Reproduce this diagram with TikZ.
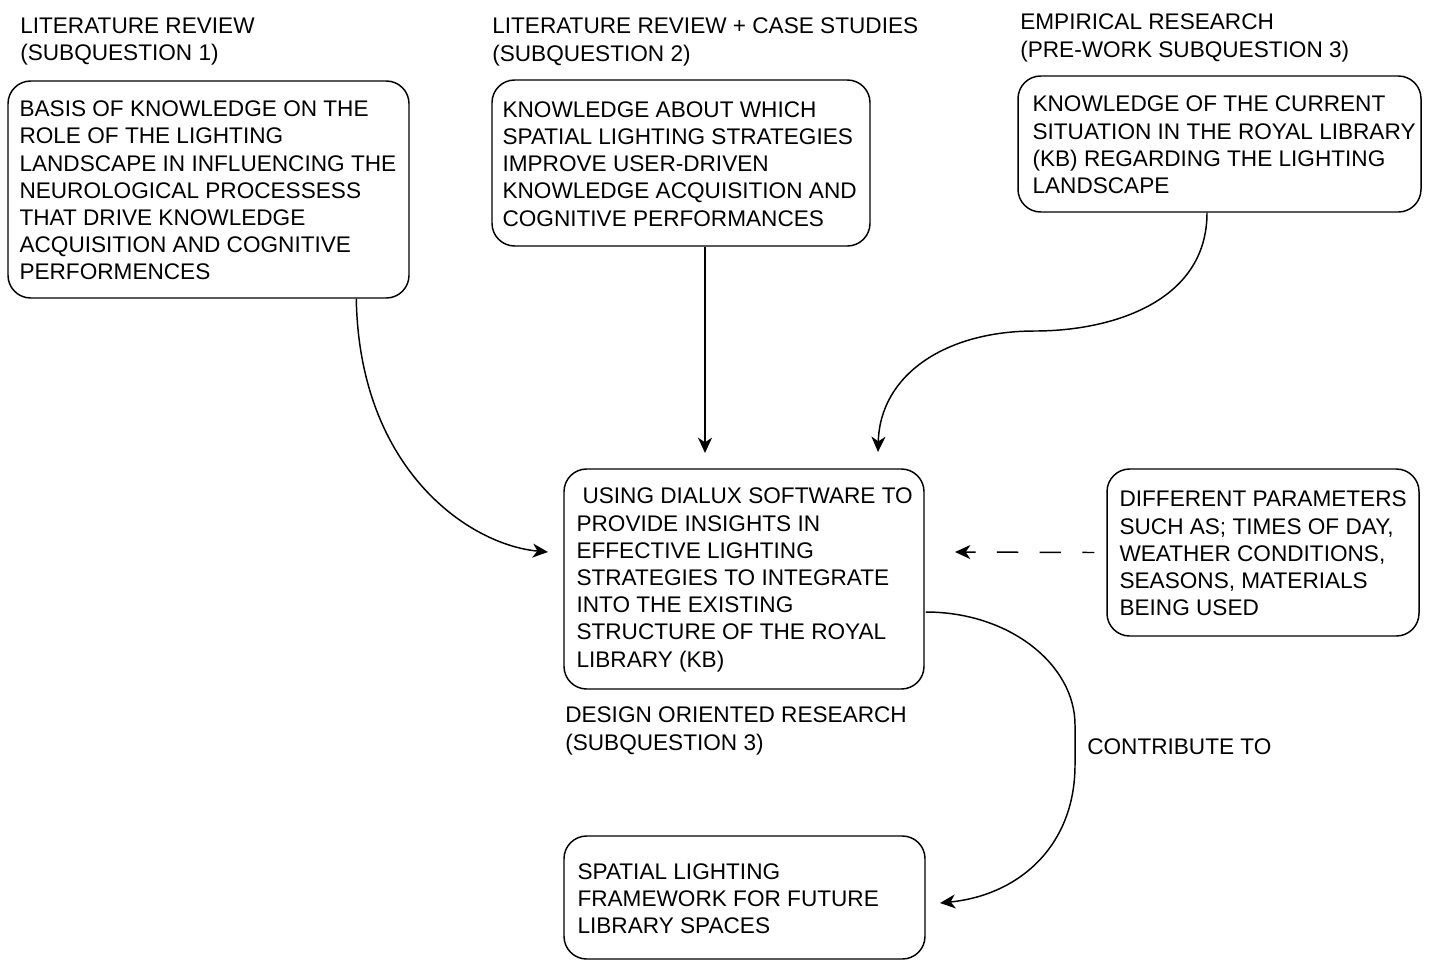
\documentclass[tikz,border=0pt]{standalone}
\usepackage{fontspec}
\setmainfont{Liberation Sans}
\usetikzlibrary{arrows.meta,calc}
\begin{document}
\begin{tikzpicture}[x=0.75pt,y=-0.75pt,
  box/.style={draw,line width=1.1pt,rounded corners=17pt,inner sep=0pt},
  txt/.style={inner sep=0pt,anchor=west,align=left,font=\fontsize{16.95pt}{20.4pt}\selectfont},
  conn/.style={line width=1.1pt,-{Stealth[length=11.5pt,width=10.5pt,inset=3.5pt]}},
  dashconn/.style={conn,dash pattern=on 16pt off 16pt,dash phase=7pt}]
\useasboundingbox (0,0) rectangle (1433,960);
% boxes
\node[box,minimum width=401*0.75pt,minimum height=217*0.75pt] (a) at (208.5,189.5) {};
\node[box,minimum width=378*0.75pt,minimum height=166*0.75pt] (b) at (681,163) {};
\node[box,minimum width=403*0.75pt,minimum height=136*0.75pt] (c) at (1219.5,144) {};
\node[box,minimum width=360*0.75pt,minimum height=220*0.75pt] (d) at (744,579) {};
\node[box,minimum width=312*0.75pt,minimum height=167*0.75pt] (e) at (1263,552.5) {};
\node[box,minimum width=361*0.75pt,minimum height=123*0.75pt] (f) at (744.5,897.5) {};
% box texts
\node[txt] (at) at ($(a.west)+(12,1)$) {BASIS OF KNOWLEDGE ON THE\\ROLE OF THE LIGHTING\\LANDSCAPE IN INFLUENCING THE\\NEUROLOGICAL PROCESSESS\\THAT DRIVE KNOWLEDGE\\ACQUISITION AND COGNITIVE\\PERFORMENCES};
\node[txt] (bt) at ($(b.west)+(11,1)$) {KNOWLEDGE ABOUT WHICH\\SPATIAL LIGHTING STRATEGIES\\IMPROVE USER-DRIVEN\\KNOWLEDGE ACQUISITION AND\\COGNITIVE PERFORMANCES};
\node[txt] (ct) at ($(c.west)+(15,1)$) {KNOWLEDGE OF THE CURRENT\\SITUATION IN THE ROYAL LIBRARY\\(KB) REGARDING THE LIGHTING\\LANDSCAPE};
\node[txt] (dt) at ($(d.west)+(13,1)$) {\hspace*{4.5pt}USING DIALUX SOFTWARE TO\\PROVIDE INSIGHTS IN\\EFFECTIVE LIGHTING\\STRATEGIES TO INTEGRATE\\INTO THE EXISTING\\STRUCTURE OF THE ROYAL\\LIBRARY (KB)};
\node[txt] (et) at ($(e.west)+(13,1)$) {DIFFERENT PARAMETERS\\SUCH AS; TIMES OF DAY,\\WEATHER CONDITIONS,\\SEASONS, MATERIALS\\BEING USED};
\node[txt] (ft) at ($(f.west)+(14,1)$) {SPATIAL LIGHTING\\FRAMEWORK FOR FUTURE\\LIBRARY SPACES};
% headings
\node[txt] (ha) at (20,41.5) {LITERATURE REVIEW\\(SUBQUESTION 1)};
\node[txt] (hb) at (492,42) {LITERATURE REVIEW + CASE STUDIES\\(SUBQUESTION 2)};
\node[txt] (hc) at (1020,38) {EMPIRICAL RESEARCH\\(PRE-WORK SUBQUESTION 3)};
\node[txt] (hd) at (565,731) {DESIGN ORIENTED RESEARCH\\(SUBQUESTION 3)};
\node[txt] (lbl) at (1087,746.5) {CONTRIBUTE TO};
% free ends
\coordinate (e1) at (548,552);
\coordinate (e2) at (705,453);
\coordinate (e3) at (878,452);
\coordinate (e4) at (955,552);
\coordinate (e5) at (940,903);
% connectors
\draw[conn] ($(a.south west)+(349,0)$) .. controls ($(a.south west)+(352,172)$) and (470,545) .. (e1);
\draw[conn] ($(b.south)+(24,0)$) -- (e2);
\draw[conn] ($(c.south)+(-12.5,0)$) .. controls ($(c.south)+(-12.5,90)$) and (1110,331) .. (1035,331)
   .. controls (945,331) and (880,375) .. (e3);
\draw[dashconn] ($(e.west)+(-12,0)$) -- (e4);
\draw[conn] ($(d.east)+(1,33)$) .. controls (1010,612) and (1075,665) .. (1075,725) -- (1075,765)
   .. controls (1075,845) and (1020,895) .. (e5);
\end{tikzpicture}
\end{document}
